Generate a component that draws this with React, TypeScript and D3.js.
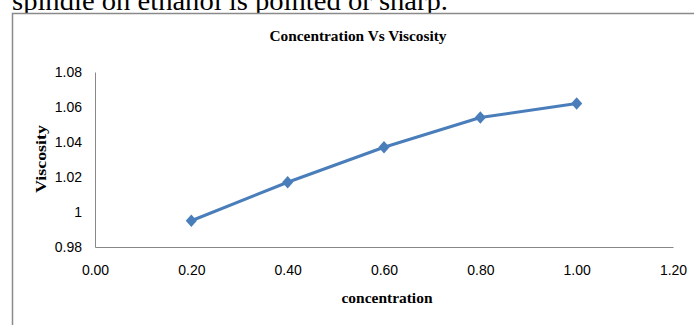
import React, { useEffect, useRef } from 'react';
import * as d3 from 'd3';

// Data
const concentration = [0.2, 0.4, 0.6, 0.8, 1.0];
const viscosity = [0.995, 1.017, 1.037, 1.054, 1.062];
const xTicks = [0, 0.2, 0.4, 0.6, 0.8, 1.0, 1.2];
const yTicks = [0.98, 1.0, 1.02, 1.04, 1.06, 1.08];

function App() {
  const svgRef = useRef<SVGSVGElement>(null);

  useEffect(() => {
    if (!svgRef.current) return;
    const svg = d3.select(svgRef.current);
    svg.selectAll("*").remove();

    const W = 694;
    const H = 325;
    const plot = { left: 95, right: 673, top: 72, bottom: 247 };

    // Page text above the chart (cut off at the top)
    svg
      .append("text")
      .attr("x", 12)
      .attr("y", 10)
      .attr("textLength", 436)
      .attr("lengthAdjust", "spacingAndGlyphs")
      .style("font-family", "'Liberation Serif', 'Times New Roman', serif")
      .style("font-size", "28px")
      .style("fill", "#000")
      .text("spindle on ethanol is pointed or sharp.");

    // Chart frame
    svg
      .append("rect")
      .attr("x", 12.5)
      .attr("y", 13.5)
      .attr("width", W)
      .attr("height", H)
      .attr("fill", "white")
      .attr("stroke", "#8a8a8a")
      .attr("stroke-width", 1.5);

    const x = d3.scaleLinear().domain([0, 1.2]).range([plot.left, plot.right]);
    const y = d3.scaleLinear().domain([0.98, 1.08]).range([plot.bottom, plot.top]);

    // Title
    svg
      .append("text")
      .attr("x", 358)
      .attr("y", 41)
      .attr("text-anchor", "middle")
      .attr("textLength", 177)
      .attr("lengthAdjust", "spacingAndGlyphs")
      .style("font-family", "'Liberation Serif', 'Times New Roman', serif")
      .style("font-weight", "bold")
      .style("font-size", "14px")
      .text("Concentration Vs Viscosity");

    const tickFont = "'Liberation Sans', Arial, sans-serif";

    // Y axis
    const yAxis = svg
      .append("g")
      .attr("transform", `translate(${plot.left},0)`)
      .call(
        d3
          .axisLeft(y)
          .tickValues(yTicks)
          .tickSize(0)
          .tickPadding(13)
          .tickFormat((d) => d3.format("~g")(+d))
      );
    yAxis.select(".domain").attr("stroke", "#888888").attr("stroke-width", 1);
    yAxis
      .selectAll("text")
      .style("font-family", tickFont)
      .style("font-size", "14px")
      .style("fill", "#000");

    // X axis
    const xAxis = svg
      .append("g")
      .attr("transform", `translate(0,${plot.bottom})`)
      .call(
        d3
          .axisBottom(x)
          .tickValues(xTicks)
          .tickSize(0)
          .tickPadding(18)
          .tickFormat(d3.format(".2f"))
      );
    xAxis.select(".domain").attr("stroke", "#888888").attr("stroke-width", 1);
    xAxis
      .selectAll("text")
      .style("font-family", tickFont)
      .style("font-size", "14px")
      .style("fill", "#000");

    // Axis titles
    svg
      .append("text")
      .attr("x", 387)
      .attr("y", 303)
      .attr("text-anchor", "middle")
      .attr("textLength", 91)
      .attr("lengthAdjust", "spacingAndGlyphs")
      .style("font-family", "'Liberation Serif', 'Times New Roman', serif")
      .style("font-weight", "bold")
      .style("font-size", "15px")
      .text("concentration");

    svg
      .append("text")
      .attr("transform", "translate(46,159) rotate(-90)")
      .attr("text-anchor", "middle")
      .attr("textLength", 68)
      .attr("lengthAdjust", "spacingAndGlyphs")
      .style("font-family", "'Liberation Serif', 'Times New Roman', serif")
      .style("font-weight", "bold")
      .style("font-size", "15px")
      .text("Viscosity");

    const points = concentration.map((c, i) => [c, viscosity[i]] as [number, number]);

    // Line
    const line = d3
      .line<[number, number]>()
      .x((d) => x(d[0]))
      .y((d) => y(d[1]));

    svg
      .append("path")
      .datum(points)
      .attr("d", line)
      .attr("fill", "none")
      .attr("stroke", "#4a7ebb")
      .attr("stroke-width", 3)
      .attr("stroke-linejoin", "round");

    // Diamond markers
    const diamond = d3.symbol().type(d3.symbolSquare).size(62)();
    svg
      .selectAll(".marker")
      .data(points)
      .enter()
      .append("path")
      .attr("class", "marker")
      .attr("d", diamond)
      .attr("transform", (d) => `translate(${x(d[0])},${y(d[1])}) scale(1,1.12) rotate(45)`)
      .attr("fill", "#4a7ebb");
  }, []);

  return (
    <svg
      ref={svgRef}
      width={694}
      height={325}
      style={{ position: "absolute", left: 0, top: 0, background: "white" }}
    />
  );
}

export default App;
